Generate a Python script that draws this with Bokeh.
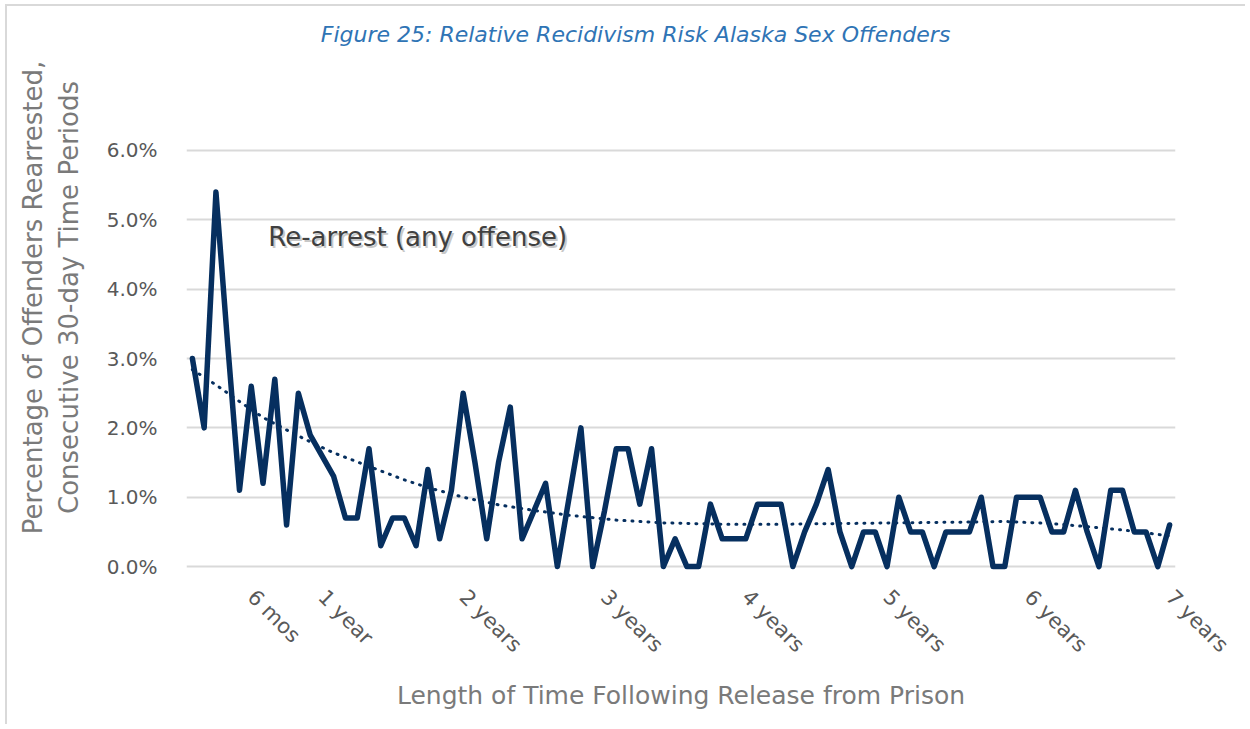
import math
from bokeh.plotting import figure
from bokeh.models import FixedTicker, PrintfTickFormatter, Range1d, Label, ColumnDataSource
from bokeh.embed import file_html
from bokeh.resources import INLINE

# ---- data (percent of offenders rearrested per consecutive 30-day period) ----
periods = list(range(84))
rearrest = [3.0, 2.0, 5.4, 3.2, 1.1, 2.6, 1.2, 2.7, 0.6, 2.5,
            1.9, 1.6, 1.3, 0.7, 0.7, 1.7, 0.3, 0.7, 0.7, 0.3,
            1.4, 0.4, 1.1, 2.5, 1.5, 0.4, 1.5, 2.3, 0.4, 0.8,
            1.2, 0.0, 1.0, 2.0, 0.0, 0.8, 1.7, 1.7, 0.9, 1.7,
            0.0, 0.4, 0.0, 0.0, 0.9, 0.4, 0.4, 0.4, 0.9, 0.9,
            0.9, 0.0, 0.5, 0.9, 1.4, 0.5, 0.0, 0.5, 0.5, 0.0,
            1.0, 0.5, 0.5, 0.0, 0.5, 0.5, 0.5, 1.0, 0.0, 0.0,
            1.0, 1.0, 1.0, 0.5, 0.5, 1.1, 0.5, 0.0, 1.1, 1.1,
            0.5, 0.5, 0.0, 0.6]
trend_x = [0, 2, 4, 6, 8, 10, 12, 14, 16, 18, 20, 23, 26, 29, 32, 36, 40,
           45, 50, 55, 60, 65, 69, 73, 77, 80, 83]
trend_y = [2.84, 2.62, 2.38, 2.15, 1.97, 1.80, 1.64, 1.51, 1.38, 1.25, 1.14,
           1.00, 0.89, 0.81, 0.74, 0.67, 0.63, 0.61, 0.61, 0.62, 0.63, 0.64,
           0.65, 0.62, 0.56, 0.51, 0.44]
x_tick_pos = [5, 11, 23, 35, 47, 59, 71, 83]
x_tick_labels = ["6 mos", "1 year", "2 years", "3 years", "4 years",
                 "5 years", "6 years", "7 years"]
y_ticks = [0, 1, 2, 3, 4, 5, 6]
title_text = "Figure 25: Relative Recidivism Risk Alaska Sex Offenders"
series_text = "Re-arrest (any offense)"

FONT = "DejaVu Sans"
GREY_TXT = "#595959"
GREY_AX = "#7a7a7a"

# frame extends up to the title area; gridlines only at 0-6 %
p = figure(width=1240, height=720, output_backend="svg", toolbar_location=None,
           x_range=Range1d(-0.5, 83.5), y_range=Range1d(-0.1, 7.86),
           min_border_left=179, min_border_right=72,
           min_border_top=15, min_border_bottom=153)
p.styles = {"border-left": "2px solid #d9d9d9", "border-top": "2px solid #d9d9d9",
            "margin-left": "5px", "margin-top": "4px"}
p.outline_line_color = None
p.background_fill_color = "white"
p.border_fill_color = "white"

# grid
p.xgrid.grid_line_color = None
p.ygrid.grid_line_color = "#d9d9d9"
p.ygrid.grid_line_width = 2

# y axis
p.yaxis.ticker = FixedTicker(ticks=y_ticks)
p.yaxis.formatter = PrintfTickFormatter(format="%.1f%%")
p.yaxis.axis_line_color = None
p.yaxis.major_tick_line_color = None
p.yaxis.minor_tick_line_color = None
p.yaxis.major_label_text_font = FONT
p.yaxis.major_label_text_font_size = "20px"
p.yaxis.major_label_text_color = GREY_TXT
p.yaxis.major_label_standoff = 23
p.yaxis.axis_label = "Percentage of Offenders Rearrested,\nConsecutive 30-day Time Periods"
p.yaxis.axis_label_text_font = FONT
p.yaxis.axis_label_text_font_size = "26px"
p.yaxis.axis_label_text_font_style = "normal"
p.yaxis.axis_label_text_color = GREY_AX
p.yaxis.axis_label_standoff = 20

# x axis
p.xaxis.ticker = FixedTicker(ticks=x_tick_pos)
p.xaxis.major_label_overrides = {t: l for t, l in zip(x_tick_pos, x_tick_labels)}
p.xaxis.major_label_orientation = -math.pi / 4
p.xaxis.axis_line_color = None
p.xaxis.major_tick_line_color = None
p.xaxis.minor_tick_line_color = None
p.xaxis.major_label_text_font = FONT
p.xaxis.major_label_text_font_size = "21px"
p.xaxis.major_label_text_color = GREY_TXT
p.xaxis.major_label_standoff = 14
p.xaxis.axis_label = "Length of Time Following Release from Prison"
p.xaxis.axis_label_text_font = FONT
p.xaxis.axis_label_text_font_size = "25px"
p.xaxis.axis_label_text_font_style = "normal"
p.xaxis.axis_label_text_color = GREY_AX
p.xaxis.axis_label_standoff = 12

NAVY = "#062F5F"
src = ColumnDataSource(dict(x=periods, y=rearrest))
p.line("x", "y", source=src, line_color=NAVY, line_width=5.5, line_join="round", line_cap="round")
tsrc = ColumnDataSource(dict(x=trend_x, y=trend_y))
p.line("x", "y", source=tsrc, line_color=NAVY, line_width=3, line_dash="1 7", line_cap="round")

# series annotation with soft shadow
p.add_layout(Label(x=6.45, y=4.75, text=series_text, text_font=FONT,
                   text_font_size="26px", text_color="#b0b0b0", text_alpha=0.7,
                   text_baseline="middle", text_align="left", x_offset=2, y_offset=-2))
p.add_layout(Label(x=6.45, y=4.75, text=series_text, text_font=FONT,
                   text_font_size="26px", text_color="#404040",
                   text_baseline="middle", text_align="left"))

# chart title
p.add_layout(Label(x=37.64, y=7.67, text=title_text, text_font=FONT,
                   text_font_size="22px", text_font_style="italic",
                   text_color="#2F74B5", text_align="center", text_baseline="middle"))

open("out.html", "w").write(file_html(p, INLINE))
